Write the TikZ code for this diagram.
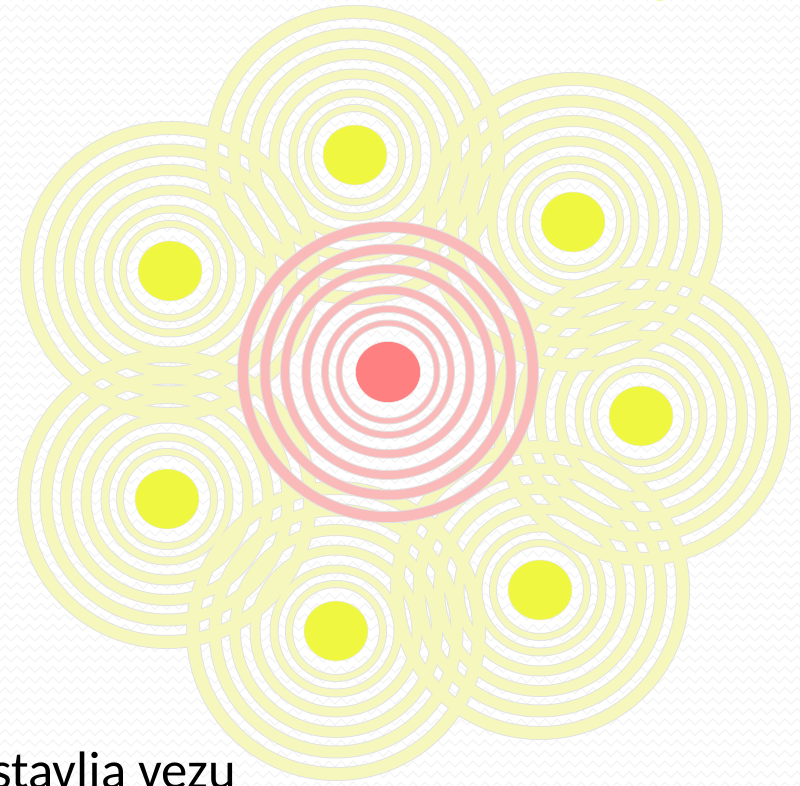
\documentclass[tikz,border=0pt]{standalone}
\usepackage{fontspec}
\setmainfont{Carlito}
\usetikzlibrary{decorations.pathmorphing}
\definecolor{paleyellow}{RGB}{246,247,188}
\definecolor{lemon}{RGB}{239,247,64}
\definecolor{palered}{RGB}{250,186,186}
\definecolor{coral}{RGB}{255,128,128}
\tikzset{
  weave/.style={draw=black!5, line width=0.5pt, decorate,
    decoration={zigzag, segment length=0.24cm, amplitude=0.06cm}},
  ringout/.style={draw=black!11},
  ringfill/.style={draw=paleyellow},
  redringout/.style={draw=black!11},
  redringfill/.style={draw=palered},
  spot/.style={fill=lemon, draw=black!8, line width=0.3pt},
  redspot/.style={fill=coral, draw=black!8, line width=0.3pt},
  caption/.style={font=\fontsize{30}{35}\selectfont, text=black},
}

\begin{document}
\begin{tikzpicture}
\useasboundingbox (0,0) rectangle (16.0,15.700);
\fill[white] (0,0) rectangle (16.0,15.700);
\foreach \row in {0,...,75}
  \draw[weave] (-0.2,0.21*\row) -- (16.2,0.21*\row);
% centres
\coordinate (hub) at (7.760,8.260);
\coordinate (north) at (7.100,12.600);
\coordinate (northeast) at (11.460,11.260);
\coordinate (east) at (12.820,7.380);
\coordinate (southeast) at (10.800,3.900);
\coordinate (south) at (6.720,3.080);
\coordinate (southwest) at (3.340,5.720);
\coordinate (northwest) at (3.400,10.280);
% yellow rings, edges first then bands
\foreach \c in {north,northeast,east,southeast,south,southwest,northwest}
  \foreach \r/\w in {2.860/0.24,2.420/0.22,2.020/0.20,1.620/0.18,1.240/0.14,0.940/0.12}
    \draw[ringout, line width=\w cm+0.04cm] (\c) circle (\r);
\foreach \c in {north,northeast,east,southeast,south,southwest,northwest}
  \foreach \r/\w in {2.860/0.24,2.420/0.22,2.020/0.20,1.620/0.18,1.240/0.14,0.940/0.12}
    \draw[ringfill, line width=\w cm] (\c) circle (\r);
% red rings
\foreach \r/\w in {2.900/0.20,2.460/0.18,2.060/0.16,1.640/0.15,1.260/0.12,0.980/0.10}{
  \draw[redringout, line width=\w cm+0.04cm] (hub) circle (\r);
  \draw[redringfill, line width=\w cm] (hub) circle (\r);
}
% dots
\foreach \c in {north,northeast,east,southeast,south,southwest,northwest}
  \filldraw[spot] (\c) ellipse (0.640 and 0.600);
\filldraw[redspot] (hub) ellipse (0.650 and 0.610);
\fill[lemon, opacity=0.6] (13.200,15.880) circle (0.200);
\node[caption, anchor=base west, inner sep=0pt] (label) at (-0.180,-0.070) {stavlja vezu};
\end{tikzpicture}
\end{document}
